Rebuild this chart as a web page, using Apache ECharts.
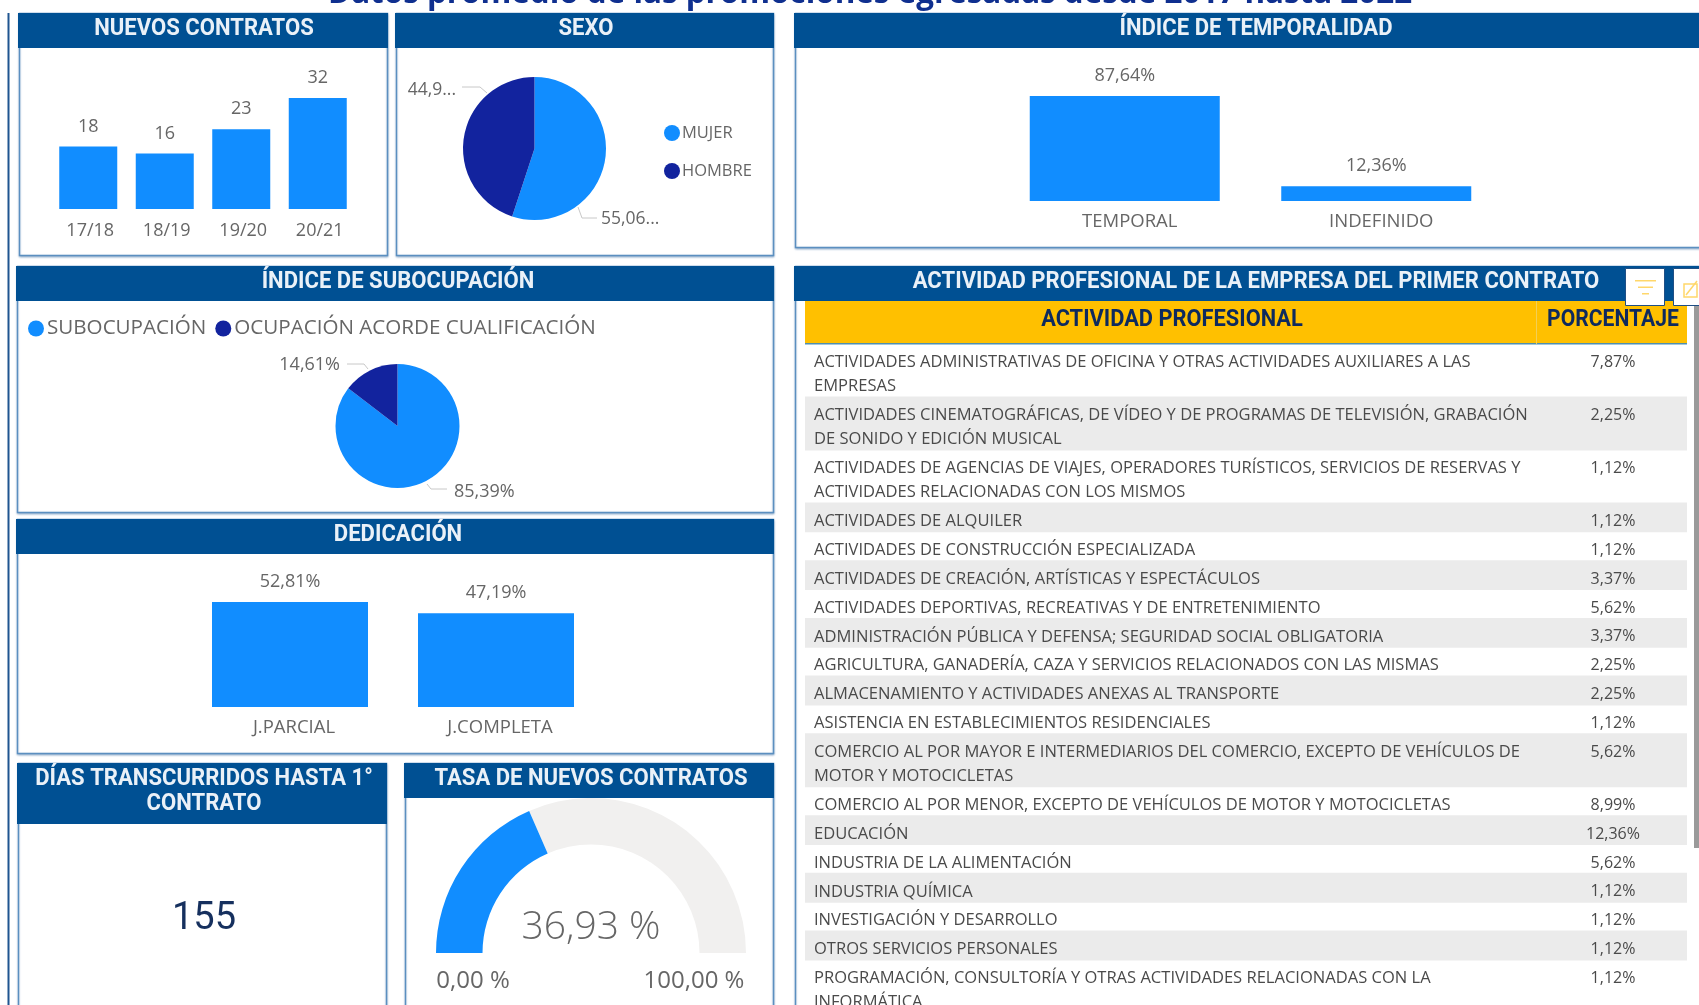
<!DOCTYPE html>
<html><head><meta charset="utf-8">
<script src="https://cdn.jsdelivr.net/npm/echarts@6/dist/echarts.min.js"></script>
<style>html,body{margin:0;padding:0;background:#fff;overflow:hidden}#c{width:1699px;height:1005px}</style>
</head><body><div id="c"></div>
<script>
const pageTitle = 'Datos promedio de las promociones egresadas desde 2017 hasta 2022';
const contractYears = ['17/18','18/19','19/20','20/21'];
const contractValues = [18,16,23,32];
const sexNames = ['MUJER','HOMBRE'];
const sexValues = [55.06,44.94];
const sexLabels = ['55,06...','44,9...'];
const tempNames = ['TEMPORAL','INDEFINIDO'];
const tempValues = [87.64,12.36];
const subNames = ['SUBOCUPACIÓN','OCUPACIÓN ACORDE CUALIFICACIÓN'];
const subValues = [85.39,14.61];
const dedNames = ['J.PARCIAL','J.COMPLETA'];
const dedValues = [52.81,47.19];
const daysValue = 155;
const rateValue = 36.93;
const activityLines = [
 ['ACTIVIDADES ADMINISTRATIVAS DE OFICINA Y OTRAS ACTIVIDADES AUXILIARES A LAS','EMPRESAS'],
 ['ACTIVIDADES CINEMATOGRÁFICAS, DE VÍDEO Y DE PROGRAMAS DE TELEVISIÓN, GRABACIÓN','DE SONIDO Y EDICIÓN MUSICAL'],
 ['ACTIVIDADES DE AGENCIAS DE VIAJES, OPERADORES TURÍSTICOS, SERVICIOS DE RESERVAS Y','ACTIVIDADES RELACIONADAS CON LOS MISMOS'],
 ['ACTIVIDADES DE ALQUILER'],
 ['ACTIVIDADES DE CONSTRUCCIÓN ESPECIALIZADA'],
 ['ACTIVIDADES DE CREACIÓN, ARTÍSTICAS Y ESPECTÁCULOS'],
 ['ACTIVIDADES DEPORTIVAS, RECREATIVAS Y DE ENTRETENIMIENTO'],
 ['ADMINISTRACIÓN PÚBLICA Y DEFENSA; SEGURIDAD SOCIAL OBLIGATORIA'],
 ['AGRICULTURA, GANADERÍA, CAZA Y SERVICIOS RELACIONADOS CON LAS MISMAS'],
 ['ALMACENAMIENTO Y ACTIVIDADES ANEXAS AL TRANSPORTE'],
 ['ASISTENCIA EN ESTABLECIMIENTOS RESIDENCIALES'],
 ['COMERCIO AL POR MAYOR E INTERMEDIARIOS DEL COMERCIO, EXCEPTO DE VEHÍCULOS DE','MOTOR Y MOTOCICLETAS'],
 ['COMERCIO AL POR MENOR, EXCEPTO DE VEHÍCULOS DE MOTOR Y MOTOCICLETAS'],
 ['EDUCACIÓN'],
 ['INDUSTRIA DE LA ALIMENTACIÓN'],
 ['INDUSTRIA QUÍMICA'],
 ['INVESTIGACIÓN Y DESARROLLO'],
 ['OTROS SERVICIOS PERSONALES'],
 ['PROGRAMACIÓN, CONSULTORÍA Y OTRAS ACTIVIDADES RELACIONADAS CON LA','INFORMÁTICA']
];
const activityPct = ['7,87%','2,25%','1,12%','1,12%','1,12%','3,37%','5,62%','3,37%','2,25%','2,25%','1,12%','5,62%','8,99%','12,36%','5,62%','1,12%','1,12%','1,12%','1,12%'];

const BLUE='#118DFF', NAVY='#12239E', HEAD='#005093', EDGE='#5B8FC0', GREY='#666666';
const TF='Roboto,"Liberation Sans",sans-serif';
const BF='"Open Sans",sans-serif';
const comma=(v)=>v.toFixed(2).replace('.',',')+'%';

const panels=[
 {x:19,y:13,w:368,h:242,hh:35,t:['NUEVOS CONTRATOS'],cx:204},
 {x:396,y:13,w:377,h:242,hh:35,t:['SEXO'],cx:586},
 {x:795,y:13,w:910,h:234,hh:35,t:['ÍNDICE DE TEMPORALIDAD'],cx:1256},
 {x:17,y:266,w:756,h:246,hh:35,t:['ÍNDICE DE SUBOCUPACIÓN'],cx:398},
 {x:17,y:519,w:756,h:234,hh:35,t:['DEDICACIÓN'],cx:398},
 {x:18,y:763,w:368,h:260,hh:61,t:['DÍAS TRANSCURRIDOS HASTA 1°','CONTRATO'],cx:204},
 {x:405,y:763,w:368,h:260,hh:35,t:['TASA DE NUEVOS CONTRATOS'],cx:591},
 {x:795,y:266,w:910,h:760,hh:35,t:['ACTIVIDAD PROFESIONAL DE LA EMPRESA DEL PRIMER CONTRATO'],cx:1256}
];
const gfx=[];
gfx.push({type:'rect',z:0,shape:{x:7.5,y:13,width:2,height:1000},style:{fill:'#1F5590'}});
gfx.push({type:'text',z:5,x:870,y:10,style:{text:pageTitle,font:'bold 31.4px "Open Sans",sans-serif',fill:'#0F2F8F',align:'center',verticalAlign:'bottom'}});
panels.forEach(p=>{
 gfx.push({type:'rect',z:0,shape:{x:p.x+.5,y:p.y+.5,width:p.w,height:p.h},style:{fill:'#fff',stroke:EDGE,lineWidth:1.5,shadowBlur:2,shadowColor:'rgba(70,120,170,.45)',shadowOffsetY:1}});
 gfx.push({type:'rect',z:1,shape:{x:p.x-1,y:p.y,width:p.w+2,height:p.hh},style:{fill:HEAD}});
 p.t.forEach((s,i)=>gfx.push({type:'text',z:2,x:p.cx,y:p.y+16.5+i*25,scaleX:.96,style:{text:s,font:'bold 23px '+TF,fill:'#EAF1F8',align:'center',verticalAlign:'middle'}}));
});
gfx.push({type:'text',z:3,x:204,y:919,style:{text:String(daysValue),font:'38px Roboto,sans-serif',fill:'#16305E',align:'center',verticalAlign:'middle'}});
gfx.push({type:'text',z:3,x:473,y:981,style:{text:'0,00 %',font:'24px '+BF,fill:GREY,align:'center',verticalAlign:'middle'}});
gfx.push({type:'text',z:3,x:694,y:981,style:{text:'100,00 %',font:'24px '+BF,fill:GREY,align:'center',verticalAlign:'middle'}});
// table header
gfx.push({type:'rect',z:1,shape:{x:805,y:301,width:882,height:43},style:{fill:'#FFC000'}});
gfx.push({type:'rect',z:2,shape:{x:805,y:343,width:882,height:1.5},style:{fill:'#4F8FB0'}});
gfx.push({type:'rect',z:2,shape:{x:1536,y:301,width:1,height:43},style:{fill:'#F2CF55'}});
gfx.push({type:'text',z:3,x:1172,y:320,scaleX:.91,style:{text:'ACTIVIDAD PROFESIONAL',font:'bold 24px '+TF,fill:'#0E2A5E',align:'center',verticalAlign:'middle'}});
gfx.push({type:'text',z:3,x:1613,y:320,scaleX:.88,style:{text:'PORCENTAJE',font:'bold 24px '+TF,fill:'#0E2A5E',align:'center',verticalAlign:'middle'}});
// scrollbar
gfx.push({type:'rect',z:4,shape:{x:1694,y:302,width:5,height:546},style:{fill:'#9A9A9A'}});
// visual header buttons
[[1625,39],[1673,39]].forEach(b=>gfx.push({type:'rect',z:5,shape:{x:b[0]+.5,y:268.5,width:b[1],height:37},style:{fill:'#fff',stroke:'#1F4F85',lineWidth:1}}));
[[1635,21],[1638,15],[1642,7]].forEach((b,i)=>gfx.push({type:'rect',z:6,shape:{x:b[0],y:280+i*6.5,width:b[1],height:1.5},style:{fill:'#FFD76A'}}));
gfx.push({type:'rect',z:6,shape:{x:1684,y:284,width:13,height:13},style:{fill:'none',stroke:'#FFD76A',lineWidth:1.5}});
gfx.push({type:'line',z:6,shape:{x1:1686,y1:295,x2:1697,y2:281},style:{stroke:'#FFD76A',lineWidth:1.5}});

// table rows derived from line counts
const SINGLE=28.85, DOUBLE=53, TOP=344;
const tops=[];let acc=TOP;activityLines.forEach(l=>{tops.push(acc);acc+=l.length>1?DOUBLE:SINGLE;});
const tableData=activityLines.map((l,i)=>[i]);

function pieLabelLayout(pts){return (params)=>{const p=pts[params.dataIndex];return {x:p.x,y:p.y,align:p.a,verticalAlign:'middle',labelLinePoints:p.l};};}
const sexLay=[
 {x:601,y:219,a:'left',l:[[578,207],[582,218],[597,218]]},
 {x:456,y:90,a:'right',l:[[487,93],[480,87],[462,87]]}
];
const subLay=[
 {x:454,y:492,a:'left',l:[[427,484],[431,489],[447,489]]},
 {x:340,y:365,a:'right',l:[[368,369],[364,364],[347,364]]}
];
const catAxis=(g,data,margin,pad,fs)=>({type:'category',gridIndex:g,data,axisLine:{show:false},axisTick:{show:false},
 axisLabel:{color:GREY,fontFamily:BF,fontSize:fs,margin,padding:pad}});
const valAxis=(g,max)=>({type:'value',gridIndex:g,min:0,max,show:false});
const barSeries=(g,data,w,fmt,dist)=>({type:'bar',xAxisIndex:g,yAxisIndex:g,data,barWidth:w,itemStyle:{color:BLUE},z:3,
 label:{show:true,position:'top',distance:dist,color:GREY,fontFamily:BF,fontSize:18,formatter:fmt}});

const option={
 animation:false,
 textStyle:{fontFamily:BF},
 grid:[
  {left:50,top:98,width:306,height:111},
  {left:999,top:96,width:503,height:105},
  {left:187,top:602,width:412,height:105}
 ],
 xAxis:[catAxis(0,contractYears,13,[0,0,0,4],18),catAxis(1,tempNames,11,[0,0,0,10],18.5),catAxis(2,dedNames,11,[0,0,0,8],18.5)],
 yAxis:[valAxis(0,32),valAxis(1,87.64),valAxis(2,52.81)],
 legend:[
  {data:sexNames,orient:'vertical',left:664,top:124.5,padding:0,icon:'circle',itemWidth:16,itemHeight:16,itemGap:21,selectedMode:false,textStyle:{color:GREY,fontFamily:BF,fontSize:16.5,padding:[0,0,0,-3]}},
  {data:subNames,orient:'horizontal',left:28,top:318,padding:0,icon:'circle',itemWidth:16,itemHeight:16,itemGap:9,selectedMode:false,textStyle:{color:GREY,fontFamily:BF,fontSize:20.6,padding:[0,0,0,-2]}}
 ],
 graphic:{elements:gfx},
 series:[
  barSeries(0,contractValues,58,p=>String(p.value),11),
  barSeries(1,tempValues,190,p=>comma(p.value),11),
  barSeries(2,dedValues,156,p=>comma(p.value),11),
  {type:'pie',center:[534.5,148.5],radius:[0,71.5],startAngle:90,clockwise:true,z:3,
   data:sexNames.map((n,i)=>({name:n,value:sexValues[i],itemStyle:{color:i?NAVY:BLUE}})),
   label:{color:GREY,fontFamily:BF,fontSize:17.5,formatter:p=>sexLabels[p.dataIndex]},
   labelLine:{show:true,lineStyle:{color:'#C8C8C8',width:1}},labelLayout:pieLabelLayout(sexLay)},
  {type:'pie',center:[397.5,426],radius:[0,62],startAngle:90,clockwise:true,z:3,
   data:subNames.map((n,i)=>({name:n,value:subValues[i],itemStyle:{color:i?NAVY:BLUE}})),
   label:{color:GREY,fontFamily:BF,fontSize:18,formatter:p=>comma(p.value)},
   labelLine:{show:true,lineStyle:{color:'#C8C8C8',width:1}},labelLayout:pieLabelLayout(subLay)},
  {type:'gauge',center:[591,953],radius:155,startAngle:180,endAngle:0,min:0,max:100,z:3,
   axisLine:{roundCap:false,lineStyle:{width:46.5,color:[[rateValue/100,BLUE],[1,'#F1F0EF']]}},
   axisTick:{show:false},splitLine:{show:false},axisLabel:{show:false},pointer:{show:false},anchor:{show:false},title:{show:false},
   detail:{valueAnimation:false,offsetCenter:[0,-25],color:GREY,fontFamily:BF,fontWeight:300,fontSize:39,formatter:v=>v.toFixed(2).replace('.',',')+' %'},
   data:[{value:rateValue}]},
  {type:'custom',coordinateSystem:'none',z:3,data:tableData,silent:true,
   renderItem:(params,api)=>{
    const i=api.value(0),lines=activityLines[i],h=lines.length>1?DOUBLE:SINGLE,y=tops[i];
    const ch=[];
    if(i%2===1)ch.push({type:'rect',shape:{x:805,y:y-.5,width:882,height:h+1},style:{fill:'#EBEBEB'}});
    lines.forEach((s,k)=>ch.push({type:'text',x:814,y:y+18.5+k*24,style:{text:s,font:'16.55px '+BF,fill:'#4A4A4A',align:'left',verticalAlign:'middle'}}));
    ch.push({type:'text',x:1613,y:y+18.5,style:{text:activityPct[i],font:'16px '+BF,fill:'#4A4A4A',align:'center',verticalAlign:'middle'}});
    return {type:'group',children:ch};
   }}
 ]
};
echarts.init(document.getElementById('c'),null,{renderer:'canvas'}).setOption(option);
</script></body></html>
